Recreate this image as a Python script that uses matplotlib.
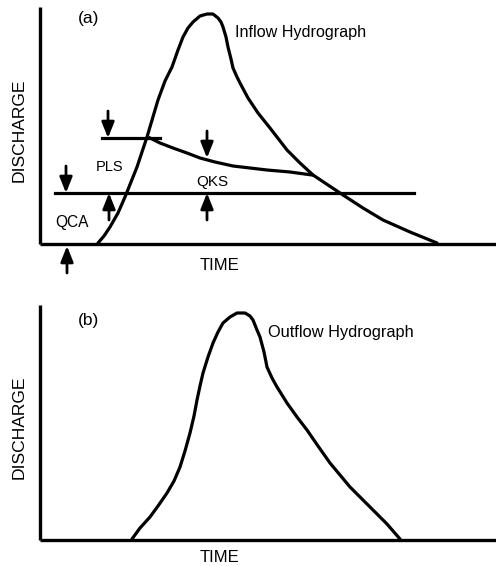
import matplotlib
matplotlib.use("Agg")
import matplotlib.pyplot as plt

plt.rcParams['font.family'] = ['Liberation Sans', 'DejaVu Sans']

# ---- Panel (a) data: time (arbitrary units), discharge (arbitrary units)
inflow_t = [58, 64, 70, 78, 85, 97, 107, 118, 125, 132, 138, 143, 148, 153, 160, 167,
            173, 178, 181, 183, 186, 188, 191, 193, 197, 200, 208, 218, 230, 247, 260,
            273, 288, 303, 323, 343, 370, 397]
inflow_q = [1, 8, 17, 31, 47, 77, 107, 144, 163, 177, 194, 207, 216, 222, 228, 230,
            230, 226, 222, 217, 207, 197, 185, 176, 167, 161, 146, 131, 116, 94, 81,
            69, 59, 49, 36, 24, 12, 1]

qks_t = [110, 120, 133, 147, 160, 175, 193, 210, 227, 250, 272]
qks_q = [106, 101, 96, 91, 86, 82, 78, 76, 74, 72, 69]

pls_level = 106
pls_t = [62, 120]
qca_level = 51
qca_t = [15, 374]

# ---- Panel (b) data
outflow_t = [92, 100, 110, 118, 127, 134, 140, 145, 150, 154, 157, 160, 163, 168, 173,
             178, 183, 190, 197, 205, 210, 213, 217, 220, 224, 227, 232, 237, 247, 257,
             267, 278, 290, 300, 310, 322, 333, 347, 360]
outflow_q = [1, 12, 23, 34, 47, 59, 73, 89, 107, 124, 140, 154, 167, 183, 197,
             208, 217, 223, 227, 227, 224, 220, 210, 203, 188, 173, 162, 153, 137, 123,
             110, 94, 77, 65, 53, 41, 30, 16, 1]

W, H = 496, 566
fig = plt.figure(figsize=(W / 100, H / 100), dpi=100)

lw = 2.3

def make_axes(x0, y_bottom, y_top):
    ax = fig.add_axes([x0 / W, (H - y_bottom) / H, (W - x0) / W, (y_bottom - y_top) / H])
    ax.set_xlim(0, W - x0)
    ax.set_ylim(0, y_bottom - y_top)
    for s in ['top', 'right']:
        ax.spines[s].set_visible(False)
    for s in ['left', 'bottom']:
        ax.spines[s].set_linewidth(2.4)
        ax.spines[s].set_capstyle('butt')
    ax.set_xticks([])
    ax.set_yticks([])
    ax.patch.set_alpha(0)
    return ax

def arrow(ax, x, y_tip, direction, length=27):
    # direction: -1 pointing down, +1 pointing up
    ax.annotate('', xy=(x, y_tip), xytext=(x, y_tip - direction * length),
                arrowprops=dict(arrowstyle='-|>,head_length=0.95,head_width=0.38',
                                color='black', lw=2.0, shrinkA=0, shrinkB=0),
                annotation_clip=False)

# ---- (a)
ax1 = make_axes(40, 244, 7)
ax1.plot(inflow_t, inflow_q, color='black', lw=lw, solid_joinstyle='round', solid_capstyle='round')
ax1.plot(qks_t, qks_q, color='black', lw=lw, solid_joinstyle='round')
ax1.plot(pls_t, [pls_level, pls_level], color='black', lw=lw)
ax1.plot(qca_t, [qca_level, qca_level], color='black', lw=lw)

arrow(ax1, 68, pls_level, -1)
arrow(ax1, 26, qca_level, -1)
arrow(ax1, 27, -2, +1)
arrow(ax1, 69, qca_level, +1)
arrow(ax1, 167, 86, -1)
arrow(ax1, 167, qca_level, +1)

ax1.text(38, 226, '(a)', fontsize=12.5, ha='left', va='center')
ax1.text(195, 211, 'Inflow Hydrograph', fontsize=11.6, ha='left', va='center')
ax1.text(70, 77, 'PLS', fontsize=10.5, ha='center', va='center')
ax1.text(172, 62, 'QKS', fontsize=11, ha='center', va='center')
ax1.text(32, 21, 'QCA', fontsize=11.2, ha='center', va='center')
ax1.text(180, -21, 'TIME', fontsize=12, ha='center', va='center')
ax1.text(-21, 114, 'DISCHARGE', fontsize=12.6, rotation=90, ha='center', va='center')

# ---- (b)
ax2 = make_axes(40, 540, 305)
ax2.plot(outflow_t, outflow_q, color='black', lw=lw, solid_joinstyle='round', solid_capstyle='round')
ax2.text(38, 220, '(b)', fontsize=12.5, ha='left', va='center')
ax2.text(228, 208, 'Outflow Hydrograph', fontsize=11.8, ha='left', va='center')
ax2.text(180, -17, 'TIME', fontsize=12, ha='center', va='center')
ax2.text(-21, 113, 'DISCHARGE', fontsize=12.6, rotation=90, ha='center', va='center')

fig.savefig('out.png', dpi=100)
